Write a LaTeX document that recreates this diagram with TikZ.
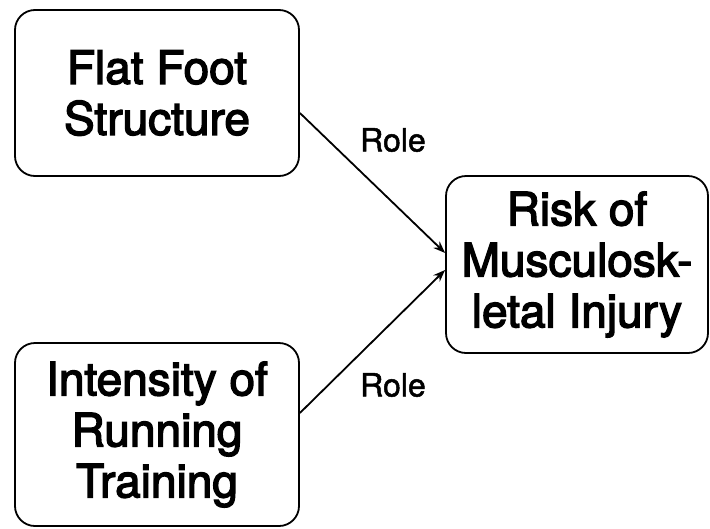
\documentclass[tikz,border=0pt]{standalone}
\usepackage{fontspec}
\setmainfont[FakeBold=3]{TeX Gyre Heros}
\newfontfamily\rolefont[FakeBold=1.5]{TeX Gyre Heros}
\usetikzlibrary{arrows.meta,calc}
\begin{document}
\begin{tikzpicture}[x=1pt,y=-1pt,
  box/.style={draw, line width=1.8pt, rounded corners=20pt, align=center, inner sep=0pt,
    font=\fontsize{46}{51}\selectfont},
  conn/.style={line width=1.8pt, -{Stealth[length=12pt,width=9pt]}},
  lbl/.style={font=\rolefont\fontsize{32}{36}\selectfont}]
\useasboundingbox (0,0) rectangle (710,528);
\node[box, minimum width=284pt, minimum height=166pt] (b1) at (157,93) {Flat Foot\\Structure};
\node[box, minimum width=284pt, minimum height=183pt] (b2) at (157,434.5) {Intensity of\\Running\\Training};
\node[box, minimum width=262pt, minimum height=177pt] (b3) at (577,264.5) {Risk of\\Musculosk-\\letal Injury};
\draw[conn] ($(b1.east)+(0,20)$) -- ($(b3.west)+(0,-11.5)$);
\draw[conn] ($(b2.east)+(0,-21.5)$) -- ($(b3.west)+(0,5.5)$);
\node[lbl] (r1) at (393,140) {Role};
\node[lbl] (r2) at (393,385) {Role};
\end{tikzpicture}
\end{document}
